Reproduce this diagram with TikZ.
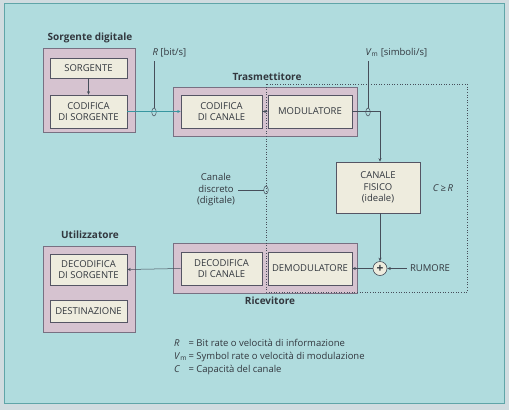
\documentclass[tikz,border=0pt]{standalone}
\usepackage{fontspec}
\setmainfont{Open Sans}
\usetikzlibrary{arrows.meta,shapes.geometric}
\definecolor{paper}{RGB}{208,220,224}
\definecolor{bg}{RGB}{176,220,222}
\definecolor{framec}{RGB}{95,165,168}
\definecolor{outfill}{RGB}{214,195,208}
\definecolor{outline}{RGB}{120,112,130}
\definecolor{infill}{RGB}{238,236,222}
\definecolor{inline}{RGB}{85,85,100}
\definecolor{ink}{RGB}{50,55,62}
\definecolor{wire}{RGB}{70,78,90}
\definecolor{cyanwire}{RGB}{55,150,160}
\begin{document}
\begin{tikzpicture}[x=1pt,y=-1pt,
  font=\fontsize{9.5}{11.5}\selectfont, text=ink,
  outerbox/.style={draw=outline, fill=outfill, line width=0.6pt, inner sep=0pt},
  innerbox/.style={draw=inline, fill=infill, line width=0.6pt, align=center, inner sep=0pt},
  title/.style={font=\fontsize{10}{12}\selectfont\bfseries},
  conn/.style={draw=wire, line width=0.5pt},
  arr/.style={conn, -{Stealth[length=3.5pt,width=3pt]}},
  probe/.style={ellipse, draw=wire, line width=0.5pt, minimum width=4.5pt, minimum height=8pt, inner sep=0pt},
  frontier/.style={draw=wire, dotted, line width=0.6pt}]
\useasboundingbox (0,0) rectangle (509,410);
\fill[paper] (0,0) rectangle (509,410);
\fill[bg] (4,3) rectangle (504,403);
\draw[framec, line width=0.6pt] (4,3) rectangle (504,403);

% outer blocks
\node[outerbox, minimum width=92pt, minimum height=84pt] (sdbox) at (89,90) {};
\node[outerbox, minimum width=184pt, minimum height=49pt] (txbox) at (265,111.5) {};
\node[outerbox, minimum width=184pt, minimum height=50pt] (rxbox) at (265,268) {};
\node[outerbox, minimum width=92pt, minimum height=86pt] (utbox) at (89,289) {};

% dotted channel boundary
\draw[frontier] (266,84) rectangle (467,292);

% titles
\node[title] (tsd) at (90,38) {Sorgente digitale};
\node[title] (ttx) at (267,77) {Trasmettitore};
\node[title] (trx) at (270,301) {Ricevitore};
\node[title] (tut) at (90,235) {Utilizzatore};

% inner blocks
\node[innerbox, minimum width=77pt, minimum height=20pt] (sorg) at (88.5,68) {SORGENTE};
\node[innerbox, minimum width=77pt, minimum height=33pt] (codsorg) at (88.5,111.5) {CODIFICA\\DI SORGENTE};
\node[innerbox, minimum width=81pt, minimum height=33pt] (codcan) at (221.5,111.5) {CODIFICA\\DI CANALE};
\node[innerbox, minimum width=84pt, minimum height=33pt] (mod) at (310,111.5) {MODULATORE};
\node[innerbox, minimum width=84pt, minimum height=51pt] (canfis) at (378,187.5) {CANALE\\FISICO\\(ideale)};
\node[innerbox, minimum width=81pt, minimum height=33pt] (deccan) at (221.5,268.5) {DECODIFICA\\DI CANALE};
\node[innerbox, minimum width=84pt, minimum height=33pt] (demod) at (310,268.5) {DEMODULATORE};
\node[innerbox, minimum width=77pt, minimum height=31pt] (decsorg) at (88.5,269.5) {DECODIFICA\\DI SORGENTE};
\node[innerbox, minimum width=77pt, minimum height=22pt] (dest) at (88.5,311) {DESTINAZIONE};

% other labels
\node[anchor=west] (rlab) at (149,53) {\textit{R} [bit/s]};
\node[anchor=west] (vlab) at (362,53) {\textit{V}\textsubscript{m} [simboli/s]};
\node (cge) at (443,188) {\textit{C}\,≥\,\textit{R}};
\node[align=center] (cdis) at (216,190) {Canale\\discreto\\(digitale)};
\node (rum) at (430,268.5) {RUMORE};
\node[circle, draw=wire, fill=infill, line width=0.6pt, minimum size=14pt, inner sep=0pt, font=\fontsize{12}{12}\selectfont\bfseries] (sum) at (380,268.5) {+};

% probes
\node[probe] (p1) at (154,112) {};
\node[probe] (p2) at (368,112) {};
\node[probe] (p3) at (266,190) {};
\coordinate (mcorner) at (380,111.5);

% connectors
\draw[arr] (sorg) -- (codsorg);
\draw[cyanwire, line width=0.6pt, -{Stealth[length=3.5pt,width=3pt]}] (codsorg.east) -- (codcan.west);
\draw[conn] (p1.north) -- (p1.north |- rlab.south);
\draw[conn] (p2.north) -- (p2.north |- vlab.south);
\draw[arr] (codcan.east) -- (mod.west);
\draw[arr] (mod.east) -- (mcorner) -- (mcorner |- canfis.north);
\draw[arr] (canfis.south -| sum) -- (sum.north);
\draw[arr] (rum.west) -- (sum.east);
\draw[arr] (sum.west) -- (demod.east);
\draw[arr] (deccan.west) -- (decsorg.east);
\draw[conn] (cdis.east) -- (p3.west);

% legend
\node[anchor=north west, inner sep=0pt] (legend) at (174,338) {%
  \begin{tabular}{@{}l@{\,}l@{}}
  \textit{R} & = Bit rate o velocità di informazione\\[1.5pt]
  \textit{V}\textsubscript{m} & = Symbol rate o velocità di modulazione\\[1.5pt]
  \textit{C} & = Capacità del canale
  \end{tabular}};
\end{tikzpicture}
\end{document}
